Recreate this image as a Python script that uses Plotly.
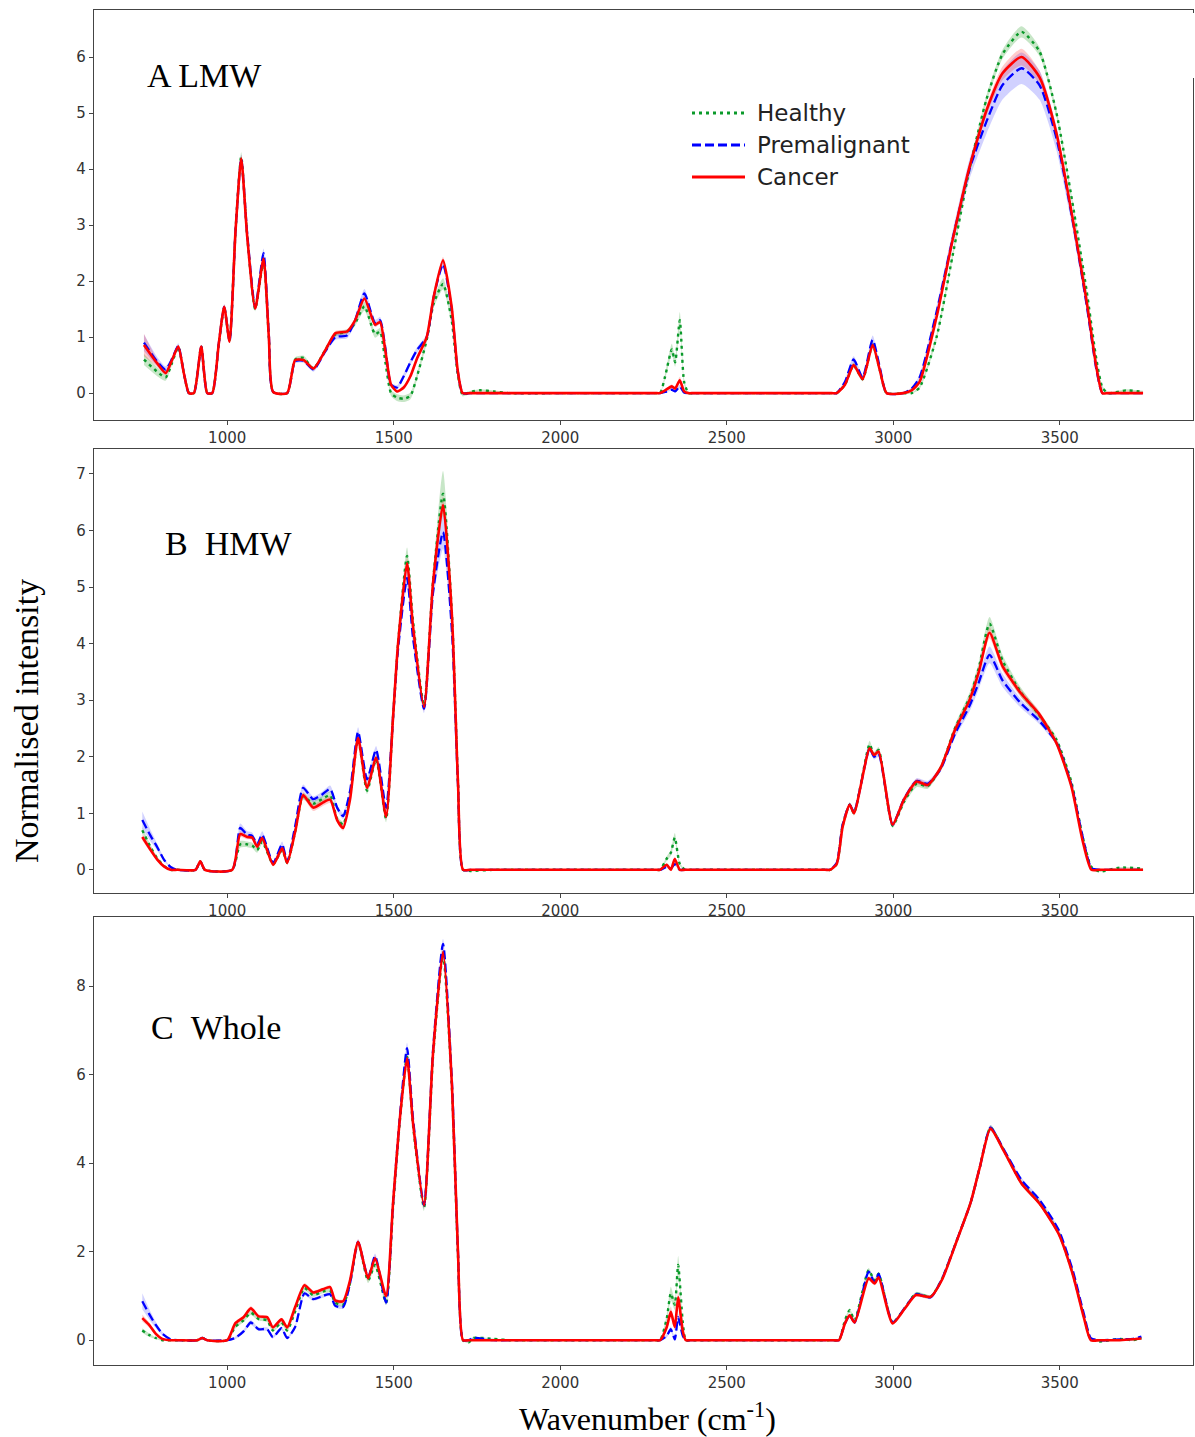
import plotly.graph_objects as go

W, H = 1195, 1437

# ---------------- spectra: A  low molecular weight fraction ----------------
wn_lmw = [750, 790, 815, 835, 853, 870, 885, 900, 922, 940,
          955, 975, 991, 1007, 1025, 1042, 1060, 1084, 1109, 1125,
          1138, 1180, 1204, 1229, 1259, 1295, 1325, 1360, 1384, 1412,
          1444, 1459, 1475, 1492, 1510, 1530, 1550, 1570, 1599, 1620,
          1648, 1674, 1692, 1707, 1730, 1760, 1800, 1850, 2000, 2150, 2285, 2300, 2315,
          2335, 2345, 2359, 2372, 2385, 2400, 2550, 2700, 2815, 2830, 2855, 2881, 2908, 2938,
          2960, 2980, 3030, 3055, 3079, 3130, 3178, 3229, 3280, 3328,
          3385, 3439, 3490, 3538, 3580, 3610, 3628, 3645, 3700, 3750]
healthy_lmw = [0.60, 0.38, 0.28, 0.55, 0.82, 0.35, 0.0, 0.0, 0.83, 0.0,
               0.0, 0.90, 1.52, 0.95, 2.90, 4.22, 2.80, 1.50, 2.35, 1.00,
               0.02, 0.0, 0.60, 0.63, 0.44, 0.78, 1.05, 1.10, 1.25, 1.55,
               1.05, 1.10, 0.55, 0.0, -0.08, -0.10, -0.05, 0.30, 0.95, 1.60,
               1.95, 1.30, 0.35, -0.03, 0.02, 0.05, 0.03, 0.0, 0.0, 0.0, 0.0, 0.0, 0.30,
               0.78, 0.55, 1.30, 0.20, 0.0, 0.0, 0.0, 0.0, 0.0, 0.0, 0.15, 0.50, 0.25, 0.86,
               0.40, 0.0, 0.0, 0.0, 0.10, 1.00, 2.45, 4.00, 5.25, 6.05,
               6.45, 6.10, 5.00, 3.40, 1.85, 0.60, 0.10, 0.0, 0.05, 0.02]
premal_lmw = [0.90, 0.56, 0.42, 0.62, 0.84, 0.35, 0.0, 0.0, 0.83, 0.0,
              0.0, 0.90, 1.54, 0.93, 2.90, 4.18, 2.85, 1.53, 2.50, 1.05,
              0.02, 0.0, 0.57, 0.58, 0.42, 0.75, 1.00, 1.03, 1.30, 1.78,
              1.25, 1.30, 0.80, 0.15, 0.10, 0.30, 0.55, 0.77, 1.00, 1.72,
              2.30, 1.50, 0.40, 0.0, 0.0, 0.0, 0.0, 0.0, 0.0, 0.0, 0.0, 0.0, 0.02,
              0.06, 0.03, 0.12, 0.01, 0.0, 0.0, 0.0, 0.0, 0.0, 0.0, 0.20, 0.60, 0.28, 0.95,
              0.45, 0.0, 0.0, 0.08, 0.28, 1.45, 2.75, 4.00, 4.85, 5.50,
              5.80, 5.50, 4.55, 3.10, 1.60, 0.42, 0.0, 0.0, 0.0, 0.0]
cancer_lmw = [0.86, 0.53, 0.36, 0.60, 0.83, 0.35, 0.0, 0.0, 0.83, 0.0,
              0.0, 0.90, 1.54, 0.92, 2.90, 4.19, 2.80, 1.51, 2.40, 1.00,
              0.02, 0.0, 0.59, 0.59, 0.44, 0.77, 1.07, 1.10, 1.30, 1.69,
              1.22, 1.27, 0.75, 0.15, 0.03, 0.10, 0.30, 0.62, 1.00, 1.72,
              2.37, 1.54, 0.41, 0.0, 0.0, 0.0, 0.0, 0.0, 0.0, 0.0, 0.0, 0.0, 0.05,
              0.12, 0.08, 0.23, 0.03, 0.0, 0.0, 0.0, 0.0, 0.0, 0.0, 0.15, 0.50, 0.25, 0.86,
              0.40, 0.0, 0.0, 0.05, 0.20, 1.36, 2.73, 4.04, 5.05, 5.71,
              6.00, 5.64, 4.64, 3.14, 1.66, 0.46, 0.0, 0.0, 0.0, 0.0]
sd_healthy_lmw = [0.10, 0.08, 0.06, 0.04, 0.03, 0.02, 0.01, 0.01, 0.03, 0.01,
                  0.01, 0.04, 0.05, 0.04, 0.06, 0.08, 0.06, 0.04, 0.06, 0.03,
                  0.01, 0.01, 0.04, 0.04, 0.03, 0.03, 0.04, 0.04, 0.05, 0.08,
                  0.06, 0.06, 0.05, 0.05, 0.06, 0.06, 0.06, 0.06, 0.06, 0.08,
                  0.10, 0.08, 0.04, 0.03, 0.02, 0.02, 0.02, 0.01, 0.01, 0.01, 0.01, 0.01, 0.05,
                  0.10, 0.08, 0.15, 0.05, 0.01, 0.01, 0.01, 0.01, 0.01, 0.01, 0.03, 0.05, 0.04, 0.06,
                  0.04, 0.01, 0.01, 0.01, 0.03, 0.06, 0.06, 0.06, 0.07, 0.08,
                  0.10, 0.08, 0.07, 0.06, 0.05, 0.04, 0.03, 0.02, 0.02, 0.02]
sd_premal_lmw = [0.15, 0.08, 0.06, 0.04, 0.05, 0.02, 0.01, 0.01, 0.03, 0.01,
                 0.01, 0.04, 0.05, 0.04, 0.06, 0.08, 0.06, 0.04, 0.08, 0.03,
                 0.01, 0.01, 0.04, 0.04, 0.04, 0.04, 0.05, 0.05, 0.06, 0.08,
                 0.06, 0.06, 0.05, 0.04, 0.04, 0.05, 0.05, 0.05, 0.05, 0.06,
                 0.06, 0.05, 0.03, 0.01, 0.01, 0.01, 0.01, 0.01, 0.01, 0.01, 0.01, 0.01, 0.01,
                 0.02, 0.02, 0.03, 0.01, 0.01, 0.01, 0.01, 0.01, 0.01, 0.01, 0.04, 0.06, 0.05, 0.08,
                 0.04, 0.01, 0.01, 0.02, 0.05, 0.10, 0.14, 0.18, 0.22, 0.26,
                 0.28, 0.26, 0.22, 0.15, 0.10, 0.05, 0.02, 0.01, 0.01, 0.01]
sd_cancer_lmw = [0.20, 0.06, 0.04, 0.03, 0.03, 0.02, 0.01, 0.01, 0.03, 0.01,
                 0.01, 0.03, 0.04, 0.03, 0.05, 0.06, 0.05, 0.03, 0.05, 0.03,
                 0.01, 0.01, 0.03, 0.03, 0.03, 0.03, 0.04, 0.04, 0.04, 0.05,
                 0.04, 0.04, 0.04, 0.03, 0.03, 0.03, 0.04, 0.04, 0.04, 0.05,
                 0.06, 0.05, 0.03, 0.01, 0.01, 0.01, 0.01, 0.01, 0.01, 0.01, 0.01, 0.01, 0.02,
                 0.04, 0.03, 0.06, 0.02, 0.01, 0.01, 0.01, 0.01, 0.01, 0.01, 0.03, 0.04, 0.03, 0.05,
                 0.03, 0.01, 0.01, 0.01, 0.03, 0.05, 0.06, 0.07, 0.09, 0.12,
                 0.15, 0.12, 0.09, 0.06, 0.05, 0.03, 0.01, 0.01, 0.01, 0.01]

# ---------------- spectra: B  high molecular weight fraction ----------------
wn_hmw = [745, 770, 790, 810, 830, 850, 905, 919, 933, 1015,
          1039, 1060, 1075, 1090, 1105, 1138, 1165, 1180, 1205, 1228,
          1258, 1285, 1309, 1330, 1348, 1369, 1393, 1420, 1447, 1477,
          1498, 1513, 1540, 1558, 1591, 1618, 1648, 1675, 1693, 1708,
          1730, 1800, 1950, 2100, 2250, 2290, 2300, 2320, 2332, 2344, 2359, 2375,
          2390, 2500, 2650, 2795, 2810, 2830,
          2848, 2869, 2882, 2929, 2942, 2956, 2998, 3032, 3070, 3103,
          3142, 3185, 3229, 3256, 3289, 3328, 3382, 3436, 3490, 3535,
          3568, 3595, 3620, 3680, 3750]
healthy_hmw = [0.70, 0.40, 0.20, 0.07, 0.0, 0.0, 0.0, 0.15, 0.0, 0.0,
               0.45, 0.45, 0.43, 0.35, 0.50, 0.10, 0.35, 0.12, 0.70, 1.30,
               1.17, 1.25, 1.32, 0.90, 0.80, 1.30, 2.30, 1.40, 1.95, 0.90,
               2.70, 4.00, 5.55, 4.40, 2.90, 5.10, 6.65, 4.50, 1.55, 0.0,
               -0.02, 0.0, 0.0, 0.0, 0.0, 0.0, 0.0, 0.20, 0.30, 0.57, 0.10, 0.0,
               0.0, 0.0, 0.0, 0.0, 0.0, 0.10,
               0.78, 1.15, 1.00, 2.22, 2.03, 2.12, 0.78, 1.20, 1.52, 1.48,
               1.80, 2.50, 3.05, 3.55, 4.35, 3.70, 3.15, 2.75, 2.30, 1.55,
               0.60, 0.05, -0.03, 0.04, 0.02]
premal_hmw = [0.88, 0.60, 0.40, 0.18, 0.05, 0.0, 0.0, 0.15, 0.0, 0.0,
              0.74, 0.62, 0.60, 0.45, 0.62, 0.12, 0.45, 0.14, 0.80, 1.45,
              1.25, 1.33, 1.43, 1.10, 0.95, 1.40, 2.44, 1.60, 2.12, 1.10,
              2.70, 3.90, 5.16, 4.10, 2.85, 4.90, 5.97, 4.20, 1.50, 0.0,
              0.0, 0.0, 0.0, 0.0, 0.0, 0.0, 0.0, 0.05, 0.02, 0.10, 0.0, 0.0,
              0.0, 0.0, 0.0, 0.0, 0.0, 0.12,
              0.80, 1.15, 1.02, 2.15, 2.00, 2.05, 0.80, 1.25, 1.57, 1.52,
              1.78, 2.40, 2.90, 3.30, 3.80, 3.35, 2.95, 2.65, 2.25, 1.50,
              0.60, 0.03, 0.0, 0.0, 0.0]
cancer_hmw = [0.58, 0.35, 0.18, 0.06, 0.0, 0.0, 0.0, 0.15, 0.0, 0.0,
              0.63, 0.58, 0.57, 0.41, 0.56, 0.09, 0.38, 0.12, 0.70, 1.32,
              1.10, 1.18, 1.24, 0.88, 0.74, 1.25, 2.33, 1.45, 1.98, 0.94,
              2.70, 4.00, 5.42, 4.30, 2.88, 5.07, 6.45, 4.47, 1.53, 0.0,
              0.0, 0.0, 0.0, 0.0, 0.0, 0.0, 0.0, 0.09, 0.0, 0.19, 0.0, 0.0,
              0.0, 0.0, 0.0, 0.0, 0.0, 0.10,
              0.76, 1.15, 1.00, 2.15, 2.03, 2.09, 0.80, 1.24, 1.56, 1.50,
              1.80, 2.47, 3.00, 3.48, 4.19, 3.60, 3.13, 2.77, 2.24, 1.47,
              0.53, 0.0, 0.0, 0.0, 0.0]
sd_healthy_hmw = [0.05, 0.04, 0.03, 0.02, 0.01, 0.01, 0.01, 0.02, 0.01, 0.01,
                  0.06, 0.05, 0.05, 0.05, 0.05, 0.03, 0.04, 0.03, 0.05, 0.06,
                  0.05, 0.05, 0.06, 0.05, 0.05, 0.06, 0.08, 0.06, 0.07, 0.06,
                  0.08, 0.10, 0.15, 0.10, 0.08, 0.15, 0.40, 0.15, 0.06, 0.01,
                  0.01, 0.01, 0.01, 0.01, 0.01, 0.01, 0.01, 0.04, 0.05, 0.08, 0.03, 0.01,
                  0.01, 0.01, 0.01, 0.01, 0.01, 0.02,
                  0.03, 0.04, 0.04, 0.06, 0.05, 0.05, 0.04, 0.05, 0.06, 0.05,
                  0.05, 0.06, 0.08, 0.10, 0.12, 0.10, 0.08, 0.06, 0.05, 0.04,
                  0.03, 0.01, 0.01, 0.01, 0.01]
sd_premal_hmw = [0.15, 0.10, 0.06, 0.03, 0.01, 0.01, 0.01, 0.02, 0.01, 0.01,
                 0.08, 0.06, 0.06, 0.05, 0.06, 0.03, 0.05, 0.03, 0.05, 0.06,
                 0.05, 0.05, 0.06, 0.05, 0.05, 0.06, 0.08, 0.06, 0.07, 0.06,
                 0.08, 0.10, 0.15, 0.12, 0.08, 0.15, 0.30, 0.15, 0.06, 0.01,
                 0.01, 0.01, 0.01, 0.01, 0.01, 0.01, 0.01, 0.02, 0.02, 0.03, 0.01, 0.01,
                 0.01, 0.01, 0.01, 0.01, 0.01, 0.02,
                 0.03, 0.04, 0.04, 0.05, 0.05, 0.05, 0.04, 0.05, 0.05, 0.05,
                 0.05, 0.07, 0.10, 0.12, 0.15, 0.12, 0.08, 0.06, 0.05, 0.04,
                 0.03, 0.01, 0.01, 0.01, 0.01]
sd_cancer_hmw = [0.06, 0.04, 0.03, 0.02, 0.01, 0.01, 0.01, 0.02, 0.01, 0.01,
                 0.05, 0.04, 0.04, 0.04, 0.04, 0.03, 0.04, 0.03, 0.05, 0.06,
                 0.06, 0.06, 0.06, 0.05, 0.05, 0.06, 0.07, 0.06, 0.06, 0.06,
                 0.07, 0.08, 0.10, 0.08, 0.07, 0.10, 0.15, 0.10, 0.05, 0.01,
                 0.01, 0.01, 0.01, 0.01, 0.01, 0.01, 0.01, 0.03, 0.02, 0.04, 0.01, 0.01,
                 0.01, 0.01, 0.01, 0.01, 0.01, 0.02,
                 0.03, 0.04, 0.04, 0.05, 0.05, 0.05, 0.04, 0.05, 0.05, 0.05,
                 0.05, 0.06, 0.07, 0.08, 0.10, 0.08, 0.07, 0.06, 0.05, 0.04,
                 0.03, 0.01, 0.01, 0.01, 0.01]

# ---------------- spectra: C  whole saliva ----------------
wn_whole = [745, 765, 785, 805, 830, 850, 910, 925, 940, 1000,
            1024, 1049, 1071, 1094, 1120, 1137, 1163, 1180, 1204, 1232,
            1258, 1287, 1309, 1324, 1348, 1369, 1393, 1423, 1444, 1477,
            1498, 1519, 1540, 1558, 1591, 1618, 1648, 1675, 1693, 1708,
            1725, 1740, 1800, 1850, 2000, 2150, 2285, 2300, 2320, 2332, 2344, 2354, 2368,
            2377, 2392, 2500, 2650, 2822, 2837, 2855, 2869, 2884, 2926, 2944, 2956, 2998, 3034,
            3068, 3112, 3146, 3188, 3232, 3259, 3292, 3331, 3385, 3439,
            3496, 3538, 3572, 3593, 3620, 3680, 3720, 3745]
healthy_whole = [0.22, 0.12, 0.05, 0.0, 0.0, 0.0, 0.0, 0.05, 0.0, 0.0,
                 0.30, 0.45, 0.62, 0.48, 0.45, 0.22, 0.40, 0.22, 0.65, 1.18,
                 1.02, 1.10, 1.12, 0.85, 0.80, 1.30, 2.20, 1.35, 1.70, 0.85,
                 3.00, 5.00, 6.40, 4.85, 3.00, 6.40, 8.70, 5.65, 1.90, 0.0,
                 -0.05, 0.05, 0.03, 0.0, 0.0, 0.0, 0.0, 0.0, 0.50, 1.06, 0.80, 1.70, 0.40,
                 0.0, 0.0, 0.0, 0.0, 0.0, 0.0, 0.45, 0.68, 0.45, 1.58, 1.35, 1.50, 0.40, 0.72,
                 1.05, 0.98, 1.38, 2.20, 3.10, 3.88, 4.80, 4.30, 3.55, 3.10,
                 2.43, 1.53, 0.55, 0.02, -0.03, 0.03, 0.0, 0.05]
premal_whole = [0.88, 0.60, 0.35, 0.15, 0.02, 0.0, 0.0, 0.05, 0.0, 0.0,
                0.05, 0.20, 0.40, 0.25, 0.25, 0.07, 0.27, 0.05, 0.30, 1.06,
                0.93, 1.00, 1.04, 0.78, 0.75, 1.30, 2.22, 1.42, 1.90, 0.85,
                3.10, 5.10, 6.60, 5.00, 3.05, 6.55, 8.95, 5.80, 2.00, 0.0,
                0.0, 0.05, 0.0, 0.0, 0.0, 0.0, 0.0, 0.0, 0.10, 0.25, 0.02, 0.52, 0.10,
                0.0, 0.0, 0.0, 0.0, 0.0, 0.0, 0.38, 0.56, 0.40, 1.55, 1.30, 1.50, 0.40, 0.72,
                1.04, 0.97, 1.38, 2.20, 3.10, 3.88, 4.80, 4.32, 3.62, 3.17,
                2.50, 1.60, 0.60, 0.05, 0.0, 0.02, 0.03, 0.08]
cancer_whole = [0.50, 0.35, 0.15, 0.03, 0.0, 0.0, 0.0, 0.05, 0.0, 0.0,
                0.38, 0.52, 0.72, 0.54, 0.52, 0.29, 0.47, 0.29, 0.75, 1.24,
                1.08, 1.15, 1.20, 0.90, 0.88, 1.36, 2.22, 1.40, 1.85, 1.00,
                3.10, 5.05, 6.37, 4.90, 3.05, 6.48, 8.77, 5.72, 1.96, 0.0,
                0.0, 0.0, 0.0, 0.0, 0.0, 0.0, 0.0, 0.0, 0.30, 0.64, 0.30, 0.97, 0.20,
                0.0, 0.0, 0.0, 0.0, 0.0, 0.0, 0.38, 0.56, 0.40, 1.40, 1.28, 1.42, 0.38, 0.71,
                1.02, 0.98, 1.36, 2.19, 3.10, 3.88, 4.78, 4.29, 3.54, 3.09,
                2.41, 1.51, 0.52, 0.0, 0.0, 0.0, 0.02, 0.04]
sd_healthy_whole = [0.05, 0.04, 0.02, 0.01, 0.01, 0.01, 0.01, 0.01, 0.01, 0.01,
                    0.04, 0.04, 0.05, 0.04, 0.04, 0.03, 0.04, 0.03, 0.04, 0.05,
                    0.04, 0.04, 0.04, 0.04, 0.04, 0.05, 0.06, 0.06, 0.06, 0.06,
                    0.08, 0.10, 0.12, 0.10, 0.08, 0.10, 0.12, 0.10, 0.06, 0.02,
                    0.02, 0.02, 0.01, 0.01, 0.01, 0.01, 0.01, 0.01, 0.10, 0.15, 0.12, 0.20, 0.08,
                    0.01, 0.01, 0.01, 0.01, 0.01, 0.01, 0.03, 0.04, 0.03, 0.05, 0.04, 0.04, 0.03, 0.04,
                    0.04, 0.04, 0.04, 0.05, 0.05, 0.05, 0.06, 0.05, 0.05, 0.05,
                    0.04, 0.04, 0.03, 0.01, 0.01, 0.01, 0.01, 0.01]
sd_premal_whole = [0.18, 0.12, 0.07, 0.04, 0.01, 0.01, 0.01, 0.01, 0.01, 0.01,
                   0.03, 0.04, 0.05, 0.04, 0.04, 0.03, 0.04, 0.03, 0.04, 0.05,
                   0.04, 0.04, 0.04, 0.04, 0.04, 0.05, 0.06, 0.06, 0.06, 0.06,
                   0.08, 0.10, 0.12, 0.10, 0.08, 0.10, 0.12, 0.10, 0.06, 0.02,
                   0.02, 0.02, 0.01, 0.01, 0.01, 0.01, 0.01, 0.01, 0.04, 0.06, 0.04, 0.08, 0.03,
                   0.01, 0.01, 0.01, 0.01, 0.01, 0.01, 0.03, 0.04, 0.03, 0.05, 0.04, 0.04, 0.03, 0.04,
                   0.04, 0.04, 0.04, 0.05, 0.05, 0.05, 0.06, 0.05, 0.05, 0.05,
                   0.04, 0.04, 0.03, 0.01, 0.01, 0.01, 0.01, 0.02]
sd_cancer_whole = [0.08, 0.06, 0.04, 0.02, 0.01, 0.01, 0.01, 0.01, 0.01, 0.01,
                   0.04, 0.04, 0.05, 0.04, 0.04, 0.03, 0.04, 0.03, 0.04, 0.05,
                   0.04, 0.04, 0.04, 0.04, 0.04, 0.05, 0.06, 0.06, 0.06, 0.06,
                   0.07, 0.08, 0.10, 0.08, 0.07, 0.08, 0.10, 0.08, 0.05, 0.02,
                   0.01, 0.01, 0.01, 0.01, 0.01, 0.01, 0.01, 0.01, 0.08, 0.12, 0.08, 0.15, 0.05,
                   0.01, 0.01, 0.01, 0.01, 0.01, 0.01, 0.03, 0.04, 0.03, 0.05, 0.04, 0.04, 0.03, 0.04,
                   0.04, 0.04, 0.04, 0.05, 0.05, 0.05, 0.06, 0.05, 0.05, 0.05,
                   0.04, 0.04, 0.03, 0.01, 0.01, 0.01, 0.01, 0.01]

group_names = ["Healthy", "Premalignant", "Cancer"]
panel_labels = ["A LMW", "B\u00a0\u00a0HMW", "C\u00a0\u00a0Whole"]
x_ticks = [1000, 1500, 2000, 2500, 3000, 3500]

# ---------------- styling ----------------
LINE_STYLE = {
    "Healthy": dict(color="#0a9a2a", width=2.4, dash="3px,4px"),
    "Premalignant": dict(color="#0000ff", width=2.3, dash="9px,4px"),
    "Cancer": dict(color="#ff0000", width=2.6, dash="solid"),
}
BAND_FILL = {
    "Healthy": "rgba(0,140,0,0.22)",
    "Premalignant": "rgba(0,0,255,0.18)",
    "Cancer": "rgba(255,0,0,0.20)",
}

panels = [
    (wn_lmw, [healthy_lmw, premal_lmw, cancer_lmw],
     [sd_healthy_lmw, sd_premal_lmw, sd_cancer_lmw]),
    (wn_hmw, [healthy_hmw, premal_hmw, cancer_hmw],
     [sd_healthy_hmw, sd_premal_hmw, sd_cancer_hmw]),
    (wn_whole, [healthy_whole, premal_whole, cancer_whole],
     [sd_healthy_whole, sd_premal_whole, sd_cancer_whole]),
]
for wn, means, sds in panels:
    assert all(len(s) == len(wn) for s in means + sds)

# panel frames in pixels: (top, bottom), y range, y tick step
frames_px = [(10, 420), (449, 893), (917, 1365)]
y_ranges = [[-0.48, 6.84], [-0.41, 7.44], [-0.56, 9.56]]
y_dticks = [1, 1, 2]
x_left_px, x_right_px = 94, 1193


def fx(p):
    return p / W


def fy(p):
    return 1 - p / H


fig = go.Figure()

for i, (wn, means, sds) in enumerate(panels):
    xref = "x" if i == 0 else f"x{i + 1}"
    yref = "y" if i == 0 else f"y{i + 1}"
    # shaded mean +/- sd bands
    for name, m, s in zip(group_names, means, sds):
        lower = [a - b for a, b in zip(m, s)]
        upper = [a + b for a, b in zip(m, s)]
        fig.add_trace(go.Scatter(x=wn, y=lower, mode="lines", xaxis=xref, yaxis=yref,
                                 line=dict(width=0, shape="spline", smoothing=0.6),
                                 showlegend=False, hoverinfo="skip"))
        fig.add_trace(go.Scatter(x=wn, y=upper, mode="lines", xaxis=xref, yaxis=yref,
                                 line=dict(width=0, shape="spline", smoothing=0.6),
                                 fill="tonexty", fillcolor=BAND_FILL[name],
                                 showlegend=False, hoverinfo="skip"))
    # mean spectra
    for name, m in zip(group_names, means):
        st = LINE_STYLE[name]
        fig.add_trace(go.Scatter(x=wn, y=m, mode="lines", name=name, xaxis=xref, yaxis=yref,
                                 line=dict(color=st["color"], width=st["width"], dash=st["dash"],
                                           shape="spline", smoothing=0.6),
                                 showlegend=False))

axis_common = dict(showline=True, mirror=True, linecolor="#444444", linewidth=1.3,
                   ticks="outside", ticklen=4, tickcolor="#444444", tickwidth=1.1,
                   showgrid=False, zeroline=False,
                   tickfont=dict(family="DejaVu Sans", size=15, color="#333333"))

layout = dict(width=W, height=H, margin=dict(l=0, r=0, t=0, b=0),
              paper_bgcolor="white", plot_bgcolor="white", showlegend=False)

for i in range(3):
    top, bot = frames_px[i]
    sfx = "" if i == 0 else str(i + 1)
    layout[f"xaxis{sfx}"] = dict(axis_common, domain=[fx(x_left_px), fx(x_right_px)],
                                 anchor=f"y{sfx}", range=[600, 3900], tickvals=x_ticks)
    layout[f"yaxis{sfx}"] = dict(axis_common, domain=[fy(bot), fy(top)],
                                 anchor=f"x{sfx}", range=y_ranges[i],
                                 tick0=0, dtick=y_dticks[i])

fig.update_layout(**layout)

# panel captions
label_pos = [(145, 75), (163, 543), (149, 1027)]
for text, (px, py) in zip(panel_labels, label_pos):
    fig.add_annotation(x=fx(px), y=fy(py), xref="paper", yref="paper",
                       xanchor="left", yanchor="middle", showarrow=False, text=text,
                       font=dict(family="Liberation Serif", size=34, color="black"))

# shared axis titles
fig.add_annotation(x=fx(648), y=fy(1417), xref="paper", yref="paper", showarrow=False,
                   xanchor="center", yanchor="middle",
                   text="Wavenumber (cm<sup>-1</sup>)",
                   font=dict(family="Liberation Serif", size=32, color="black"))
fig.add_annotation(x=fx(27), y=fy(721), xref="paper", yref="paper", showarrow=False,
                   xanchor="center", yanchor="middle", textangle=-90,
                   text="Normalised intensity",
                   font=dict(family="Liberation Serif", size=34, color="black"))

# legend drawn inside panel A
legend_rows = [113, 145, 177]
for name, py in zip(group_names, legend_rows):
    st = LINE_STYLE[name]
    fig.add_shape(type="line", xref="paper", yref="paper",
                  x0=fx(692), x1=fx(745), y0=fy(py), y1=fy(py),
                  line=dict(color=st["color"], width=3.2, dash=st["dash"]))
    fig.add_annotation(x=fx(755), y=fy(py), xref="paper", yref="paper", showarrow=False,
                       xanchor="left", yanchor="middle", text=name,
                       font=dict(family="DejaVu Sans", size=23, color="#222222"))

# break in the right edge of the top frame
fig.add_shape(type="rect", xref="paper", yref="paper", layer="above",
              x0=fx(1186), x1=1.0, y0=fy(78), y1=fy(13),
              fillcolor="white", line=dict(width=0))

fig.write_html("out.html")
